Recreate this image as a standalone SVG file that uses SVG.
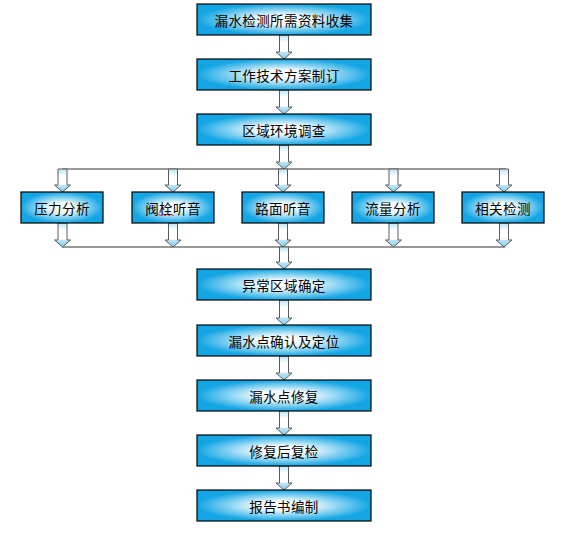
<svg xmlns="http://www.w3.org/2000/svg" width="562" height="534" viewBox="0 0 562 534">
<defs>
<radialGradient id="boxg" cx="0.5" cy="0.5" r="0.5">
<stop offset="0" stop-color="#ffffff"/>
<stop offset="0.3" stop-color="#f2fbfe"/>
<stop offset="1" stop-color="#14a6e4"/>
</radialGradient>
<linearGradient id="arrg" x1="0" y1="0" x2="0" y2="1">
<stop offset="0" stop-color="#b8e4f6"/>
<stop offset="0.3" stop-color="#ffffff"/>
<stop offset="0.68" stop-color="#ffffff"/>
<stop offset="0.71" stop-color="#bfe6f7"/>
<stop offset="1" stop-color="#7fcdef"/>
</linearGradient>
<style>
.box{fill:url(#boxg);stroke:#000;stroke-width:1.2}
.t{font-family:"Noto Sans CJK SC","Noto Sans CJK TC",sans-serif;font-size:13.5px;letter-spacing:0.4px;fill:#000;text-anchor:middle;dominant-baseline:central}
.arr{fill:url(#arrg);stroke:#5a5a5a;stroke-width:1}
.ln{stroke:#333;stroke-width:1;fill:none}
</style>
</defs>
<g id="connectors">
<path class="ln" d="M62,169H506"/>
<path class="ln" d="M62,247H505"/>
<path class="arr" d="M279.5,35V52H276L284,59L292,52H288.5V35Z"/>
<path class="arr" d="M279.5,90V107H276L284,114L292,107H288.5V90Z"/>
<path class="arr" d="M279.5,145V162H276L284,169L292,162H288.5V145Z"/>
<path class="arr" d="M58,169V185H54.5L62.5,192L70.5,185H67V169Z"/>
<path class="arr" d="M168.5,169V185H165L173,192L181,185H177.5V169Z"/>
<path class="arr" d="M278.5,169V185H275L283,192L291,185H287.5V169Z"/>
<path class="arr" d="M389,169V185H385.5L393.5,192L401.5,185H398V169Z"/>
<path class="arr" d="M499.5,169V185H496L504,192L512,185H508.5V169Z"/>
<path class="arr" d="M58,223V240H54.5L62.5,247L70.5,240H67V223Z"/>
<path class="arr" d="M168.5,223V240H165L173,247L181,240H177.5V223Z"/>
<path class="arr" d="M278.5,223V240H275L283,247L291,240H287.5V223Z"/>
<path class="arr" d="M389,223V240H385.5L393.5,247L401.5,240H398V223Z"/>
<path class="arr" d="M499.5,223V240H496L504,247L512,240H508.5V223Z"/>
<path class="arr" d="M279.5,247V262H276L284,269L292,262H288.5V247Z"/>
<path class="arr" d="M279.5,300V318H276L284,325L292,318H288.5V300Z"/>
<path class="arr" d="M279.5,356V373H276L284,380L292,373H288.5V356Z"/>
<path class="arr" d="M279.5,411V428H276L284,435L292,428H288.5V411Z"/>
<path class="arr" d="M279.5,466V483H276L284,490L292,483H288.5V466Z"/>
</g>
<g id="n1"><rect class="box" x="197" y="4" width="174" height="31"/><text class="t" x="284" y="20">漏水检测所需资料收集</text></g>
<g id="n2"><rect class="box" x="197" y="59" width="174" height="31"/><text class="t" x="284" y="75">工作技术方案制订</text></g>
<g id="n3"><rect class="box" x="197" y="114" width="174" height="31"/><text class="t" x="284" y="130">区域环境调查</text></g>
<g id="n4"><rect class="box" x="21" y="192" width="82" height="31"/><text class="t" x="62" y="208">压力分析</text></g>
<g id="n5"><rect class="box" x="132" y="192" width="82" height="31"/><text class="t" x="173" y="208">阀栓听音</text><path d="M158,215q1,-1.5 2,0t2,0t2,0t2,0t2,0t2,0t2,0t2,0" fill="none" stroke="#e02020" stroke-width="0.8"/></g>
<g id="n6"><rect class="box" x="242" y="192" width="82" height="31"/><text class="t" x="283" y="208">路面听音</text></g>
<g id="n7"><rect class="box" x="352" y="192" width="82" height="31"/><text class="t" x="393" y="208">流量分析</text></g>
<g id="n8"><rect class="box" x="462" y="192" width="82" height="31"/><text class="t" x="503" y="208">相关检测</text></g>
<g id="n9"><rect class="box" x="197" y="269" width="174" height="31"/><text class="t" x="284" y="285">异常区域确定</text></g>
<g id="n10"><rect class="box" x="197" y="325" width="174" height="31"/><text class="t" x="284" y="341">漏水点确认及定位</text></g>
<g id="n11"><rect class="box" x="197" y="380" width="174" height="31"/><text class="t" x="284" y="396">漏水点修复</text></g>
<g id="n12"><rect class="box" x="197" y="435" width="174" height="31"/><text class="t" x="284" y="451">修复后复检</text></g>
<g id="n13"><rect class="box" x="197" y="490" width="174" height="31"/><text class="t" x="284" y="506">报告书编制</text></g>
</svg>
